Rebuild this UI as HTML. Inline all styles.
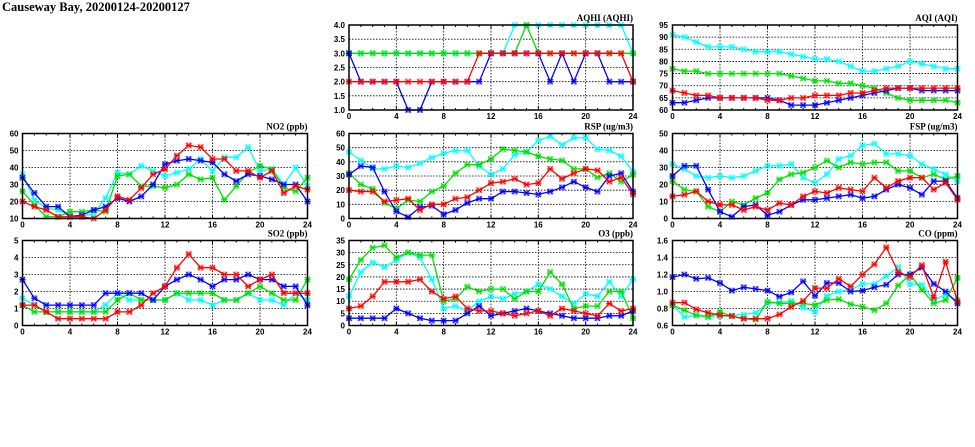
<!DOCTYPE html>
<html><head><meta charset="utf-8"><style>
html,body{margin:0;padding:0;background:#fff;}
svg{display:block;}
.t{font-family:"Liberation Sans",sans-serif;font-weight:bold;font-size:8px;fill:#000;}
.yl{text-anchor:end;}
.xl{text-anchor:middle;}
.pt{font-family:"Liberation Serif",serif;font-weight:bold;font-size:9px;text-anchor:end;fill:#000;}
</style></head><body>
<svg id="s" width="975" height="447" viewBox="0 0 975 447" xmlns="http://www.w3.org/2000/svg">
<rect width="975" height="447" fill="#fff"/>
<g id="plots"></g>
<text x="2" y="11" style="font-family:'Liberation Serif',serif;font-weight:bold;font-size:12.5px;">Causeway Bay, 20200124-20200127</text>

<text class="pt" x="633" y="21">AQHI (AQHI)</text>
<text class="pt" x="957.5" y="21">AQI (AQI)</text>
<text class="pt" x="307.5" y="129.5">NO2 (ppb)</text>
<text class="pt" x="633" y="129.5">RSP (ug/m3)</text>
<text class="pt" x="957.5" y="129.5">FSP (ug/m3)</text>
<text class="pt" x="307.5" y="236.5">SO2 (ppb)</text>
<text class="pt" x="633" y="236.5">O3 (ppb)</text>
<text class="pt" x="957.5" y="236.5">CO (ppm)</text>

<g class="t yl">
<text x="345" y="28">4.0</text><text x="345" y="42.2">3.5</text><text x="345" y="56.3">3.0</text><text x="345" y="70.5">2.5</text><text x="345" y="84.7">2.0</text><text x="345" y="98.8">1.5</text><text x="345" y="113">1.0</text>
<text x="668" y="28">95</text><text x="668" y="40.1">90</text><text x="668" y="52.3">85</text><text x="668" y="64.4">80</text><text x="668" y="76.6">75</text><text x="668" y="88.7">70</text><text x="668" y="100.9">65</text><text x="668" y="113">60</text>
<text x="18.5" y="136.5">60</text><text x="18.5" y="153.5">50</text><text x="18.5" y="170.5">40</text><text x="18.5" y="187.5">30</text><text x="18.5" y="204.5">20</text><text x="18.5" y="221.5">10</text>
<text x="345" y="136.5">60</text><text x="345" y="150.7">50</text><text x="345" y="164.8">40</text><text x="345" y="179">30</text><text x="345" y="193.2">20</text><text x="345" y="207.3">10</text><text x="345" y="221.5">0</text>
<text x="668" y="136.5">50</text><text x="668" y="153.5">40</text><text x="668" y="170.5">30</text><text x="668" y="187.5">20</text><text x="668" y="204.5">10</text><text x="668" y="221.5">0</text>
<text x="18.5" y="243.5">5</text><text x="18.5" y="260.5">4</text><text x="18.5" y="277.5">3</text><text x="18.5" y="294.5">2</text><text x="18.5" y="311.5">1</text><text x="18.5" y="328.5">0</text>
<text x="345" y="243.5">35</text><text x="345" y="255.6">30</text><text x="345" y="267.8">25</text><text x="345" y="279.9">20</text><text x="345" y="292.1">15</text><text x="345" y="304.2">10</text><text x="345" y="316.4">5</text><text x="345" y="328.5">0</text>
<text x="668" y="243.5">1.6</text><text x="668" y="260.5">1.4</text><text x="668" y="277.5">1.2</text><text x="668" y="294.5">1.0</text><text x="668" y="311.5">0.8</text><text x="668" y="328.5">0.6</text>
</g>
<g class="t xl">
<text x="349" y="119">0</text><text x="396.3" y="119">4</text><text x="443.7" y="119">8</text><text x="491" y="119">12</text><text x="538.3" y="119">16</text><text x="585.7" y="119">20</text><text x="633" y="119">24</text>
<text x="672.5" y="119">0</text><text x="720" y="119">4</text><text x="767.5" y="119">8</text><text x="815" y="119">12</text><text x="862.5" y="119">16</text><text x="910" y="119">20</text><text x="957.5" y="119">24</text>
<text x="22.5" y="227.5">0</text><text x="70" y="227.5">4</text><text x="117.5" y="227.5">8</text><text x="165" y="227.5">12</text><text x="212.5" y="227.5">16</text><text x="260" y="227.5">20</text><text x="307.5" y="227.5">24</text>
<text x="349" y="227.5">0</text><text x="396.3" y="227.5">4</text><text x="443.7" y="227.5">8</text><text x="491" y="227.5">12</text><text x="538.3" y="227.5">16</text><text x="585.7" y="227.5">20</text><text x="633" y="227.5">24</text>
<text x="672.5" y="227.5">0</text><text x="720" y="227.5">4</text><text x="767.5" y="227.5">8</text><text x="815" y="227.5">12</text><text x="862.5" y="227.5">16</text><text x="910" y="227.5">20</text><text x="957.5" y="227.5">24</text>
<text x="22.5" y="334.5">0</text><text x="70" y="334.5">4</text><text x="117.5" y="334.5">8</text><text x="165" y="334.5">12</text><text x="212.5" y="334.5">16</text><text x="260" y="334.5">20</text><text x="307.5" y="334.5">24</text>
<text x="349" y="334.5">0</text><text x="396.3" y="334.5">4</text><text x="443.7" y="334.5">8</text><text x="491" y="334.5">12</text><text x="538.3" y="334.5">16</text><text x="585.7" y="334.5">20</text><text x="633" y="334.5">24</text>
<text x="672.5" y="334.5">0</text><text x="720" y="334.5">4</text><text x="767.5" y="334.5">8</text><text x="815" y="334.5">12</text><text x="862.5" y="334.5">16</text><text x="910" y="334.5">20</text><text x="957.5" y="334.5">24</text>
</g>
</svg>
<script>
var C={b:"#0000ff",c:"#00ffff",g:"#00e000",r:"#ff0000"};
var P=[
{x:349,y:25,w:284,h:85,min:1,max:4,ny:6,d:{
b:[3,2,2,2,2,1,1,2,2,2,2,2,3,3,3,3,3,2,3,2,3,3,2,2,2],
c:[3,3,3,3,3,3,3,3,3,3,3,3,3,3,4,4,4,4,4,4,4,4,4,4,3],
g:[3,3,3,3,3,3,3,3,3,3,3,3,3,3,3,4,3,3,3,3,3,3,3,3,3],
r:[2,2,2,2,2,2,2,2,2,2,2,3,3,3,3,3,3,3,3,3,3,3,3,3,2]}},
{x:672.5,y:25,w:285,h:85,min:60,max:95,ny:7,d:{
c:[91,90,88,86,86,86,85,84,84,84,83,82,81,81,80,78,76,76,77,78,80,79,78,77,77],
g:[77,76,76,75,75,75,75,75,75,75,74,73,72,72,71,71,70,69,67,65,64,64,64,64,63],
b:[63,63,64,65,65,65,65,65,65,64,62,62,62,63,64,65,66,67,68,69,69,68,68,68,68],
r:[68,67,66,66,65,65,65,65,64,64,65,65,66,66,66,67,67,68,69,69,69,69,69,69,69]}},
{x:22.5,y:133.5,w:285,h:85,min:10,max:60,ny:5,d:{
c:[36,21,16,15,12,11,13,22,37,36,41,38,35,37,39,45,38,46,46,52,38,39,30,40,29],
g:[26,18,11,11,14,14,15,14,35,36,29,29,28,30,36,33,34,21,29,37,41,39,28,26,34],
b:[34,25,17,17,11,12,15,17,22,20,23,30,42,44,45,44,43,36,32,36,35,33,30,30,20],
r:[20,17,15,11,11,11,10,15,23,21,28,36,39,47,53,52,45,45,38,38,34,38,25,29,27]}},
{x:349,y:133.5,w:284,h:85,min:0,max:60,ny:6,d:{
c:[47,41,35,35,37,36,39,43,46,48,48,37,31,35,45,47,55,58,52,57,57,49,48,44,33],
g:[32,24,21,11,7,13,12,19,23,32,38,38,42,49,48,47,44,42,41,35,35,29,32,26,31],
b:[31,37,36,19,5,1,8,9,3,6,11,14,14,19,19,18,17,19,22,26,22,19,30,32,19],
r:[20,19,19,12,13,14,6,10,10,14,15,20,25,26,28,24,25,35,28,32,35,34,26,29,17]}},
{x:672.5,y:133.5,w:285,h:85,min:0,max:50,ny:5,d:{
c:[32,29,25,24,25,24,25,28,31,31,32,24,21,26,35,37,43,44,38,38,37,32,29,26,22],
g:[22,17,16,7,4,10,8,12,15,23,26,27,30,34,30,33,32,33,33,28,28,24,26,23,25],
b:[25,31,31,17,4,1,7,8,2,4,8,11,11,12,13,14,12,13,17,20,18,14,22,22,12],
r:[13,14,16,10,8,8,5,7,5,9,8,13,16,15,18,17,16,24,18,22,24,24,17,21,11]}},
{x:22.5,y:240.5,w:285,h:85,min:0,max:5,ny:5,d:{
c:[1.6,1.2,.8,.8,.8,.8,.8,1.2,1.9,1.5,1.5,1.5,1.5,1.9,1.5,1.5,1.2,1.5,1.5,1.9,1.5,1.5,1.2,1.9,1.5],
g:[1.2,.8,.8,.8,.8,.8,.8,.8,1.5,1.9,1.5,1.5,1.5,1.9,1.9,1.9,1.9,1.5,1.5,1.9,2.3,1.9,1.5,1.5,2.7],
b:[2.7,1.6,1.2,1.2,1.2,1.2,1.2,1.9,1.9,1.9,1.9,1.5,2.3,2.7,3.0,2.7,2.3,2.7,2.7,3.0,2.7,2.7,2.3,2.3,1.2],
r:[1.2,1.2,.8,.4,.4,.4,.4,.4,.8,.8,1.2,1.9,2.3,3.4,4.2,3.4,3.4,3.0,3.0,2.3,2.7,3.0,1.9,1.9,1.9]}},
{x:349,y:240.5,w:284,h:85,min:0,max:35,ny:7,d:{
c:[12,22,26,24,27,30,28,19,7,8,6,10,12,11,13,14,17,15,12,9,13,12,18,12,19],
g:[19,27,32,33,28,30,29,29,10,11,16,14,15,15,11,14,14,22,17,7,8,8,14,14,3],
b:[3,3,3,3,7,5,3,2,2,2,5,8,4,5,6,7,6,5,4,3,3,3,4,4,6],
r:[7,8,12,18,18,18,19,14,11,12,7,6,6,5,4,5,6,4,7,6,5,4,9,6,7]}},
{x:672.5,y:240.5,w:285,h:85,min:.6,max:1.6,ny:5,d:{
c:[.84,.7,.72,.71,.71,.72,.73,.75,.86,.87,.89,.81,.76,.95,1,1.02,1.09,1.09,1.18,1.29,1.09,1.08,.9,.96,.9],
g:[.84,.78,.72,.7,.76,.71,.68,.67,.88,.86,.86,.86,.84,.9,.91,.85,.82,.78,.86,1.07,1.2,1.02,.86,.9,1.16],
b:[1.17,1.2,1.15,1.16,1.1,1.01,1.05,1.03,1.01,.94,.99,1.12,.95,1.1,1.1,1,1.01,1.05,1.08,1.2,1.2,1.28,1.09,1,.86],
r:[.87,.87,.79,.75,.72,.71,.68,.68,.68,.73,.82,.89,1.04,1.04,1.15,1.06,1.2,1.32,1.52,1.23,1.17,1.31,.93,1.35,.88]}}
];
var s="";
P.forEach(function(p){
 s+='<g><clipPath id="c'+p.x+p.y+'"><rect x="'+(p.x-3)+'" y="'+(p.y-3)+'" width="'+(p.w+6)+'" height="'+(p.h+6)+'"/></clipPath>';
 for(var i=1;i<6;i++){var gx=p.x+p.w*i/6;s+='<line x1="'+gx+'" y1="'+p.y+'" x2="'+gx+'" y2="'+(p.y+p.h)+'" stroke="#000" stroke-width="0.8" stroke-dasharray="1.5,1.5"/>';}
 for(var j=1;j<p.ny;j++){var gy=p.y+p.h*j/p.ny;s+='<line x1="'+p.x+'" y1="'+gy+'" x2="'+(p.x+p.w)+'" y2="'+gy+'" stroke="#000" stroke-width="0.8" stroke-dasharray="1.5,1.5"/>';}
 for(var k=0;k<=24;k++){var tx=p.x+p.w*k/24;var L=(k%4==0)?4:2;s+='<line x1="'+tx+'" y1="'+(p.y+p.h)+'" x2="'+tx+'" y2="'+(p.y+p.h-L)+'" stroke="#000"/><line x1="'+tx+'" y1="'+p.y+'" x2="'+tx+'" y2="'+(p.y+L)+'" stroke="#000"/>';}
 s+='<g clip-path="url(#c'+p.x+p.y+')">';
 ["c","g","b","r"].forEach(function(k){
  var a=p.d[k],pts=[],m="";
  a.forEach(function(v,i){var X=p.x+p.w*i/24,Y=p.y+p.h*(1-(v-p.min)/(p.max-p.min));pts.push(X.toFixed(1)+","+Y.toFixed(1));
   m+='<rect x="'+(X-3)+'" y="'+(Y-3)+'" width="6" height="6" fill="'+C[k]+'" opacity="0.35"/><path d="M'+(X-2.5)+' '+(Y-2.5)+'L'+(X+2.5)+' '+(Y+2.5)+'M'+(X-2.5)+' '+(Y+2.5)+'L'+(X+2.5)+' '+(Y-2.5)+'M'+(X-3)+' '+Y+'L'+(X+3)+' '+Y+'" stroke="'+C[k]+'" stroke-width="1"/>';});
  s+='<polyline points="'+pts.join(" ")+'" fill="none" stroke="'+C[k]+'" stroke-width="1.3"/>'+m;
 });
 s+='</g><rect x="'+p.x+'" y="'+p.y+'" width="'+p.w+'" height="'+p.h+'" fill="none" stroke="#000" stroke-width="1.5"/></g>';
});
document.getElementById("plots").innerHTML=s;
</script>
</body></html>
